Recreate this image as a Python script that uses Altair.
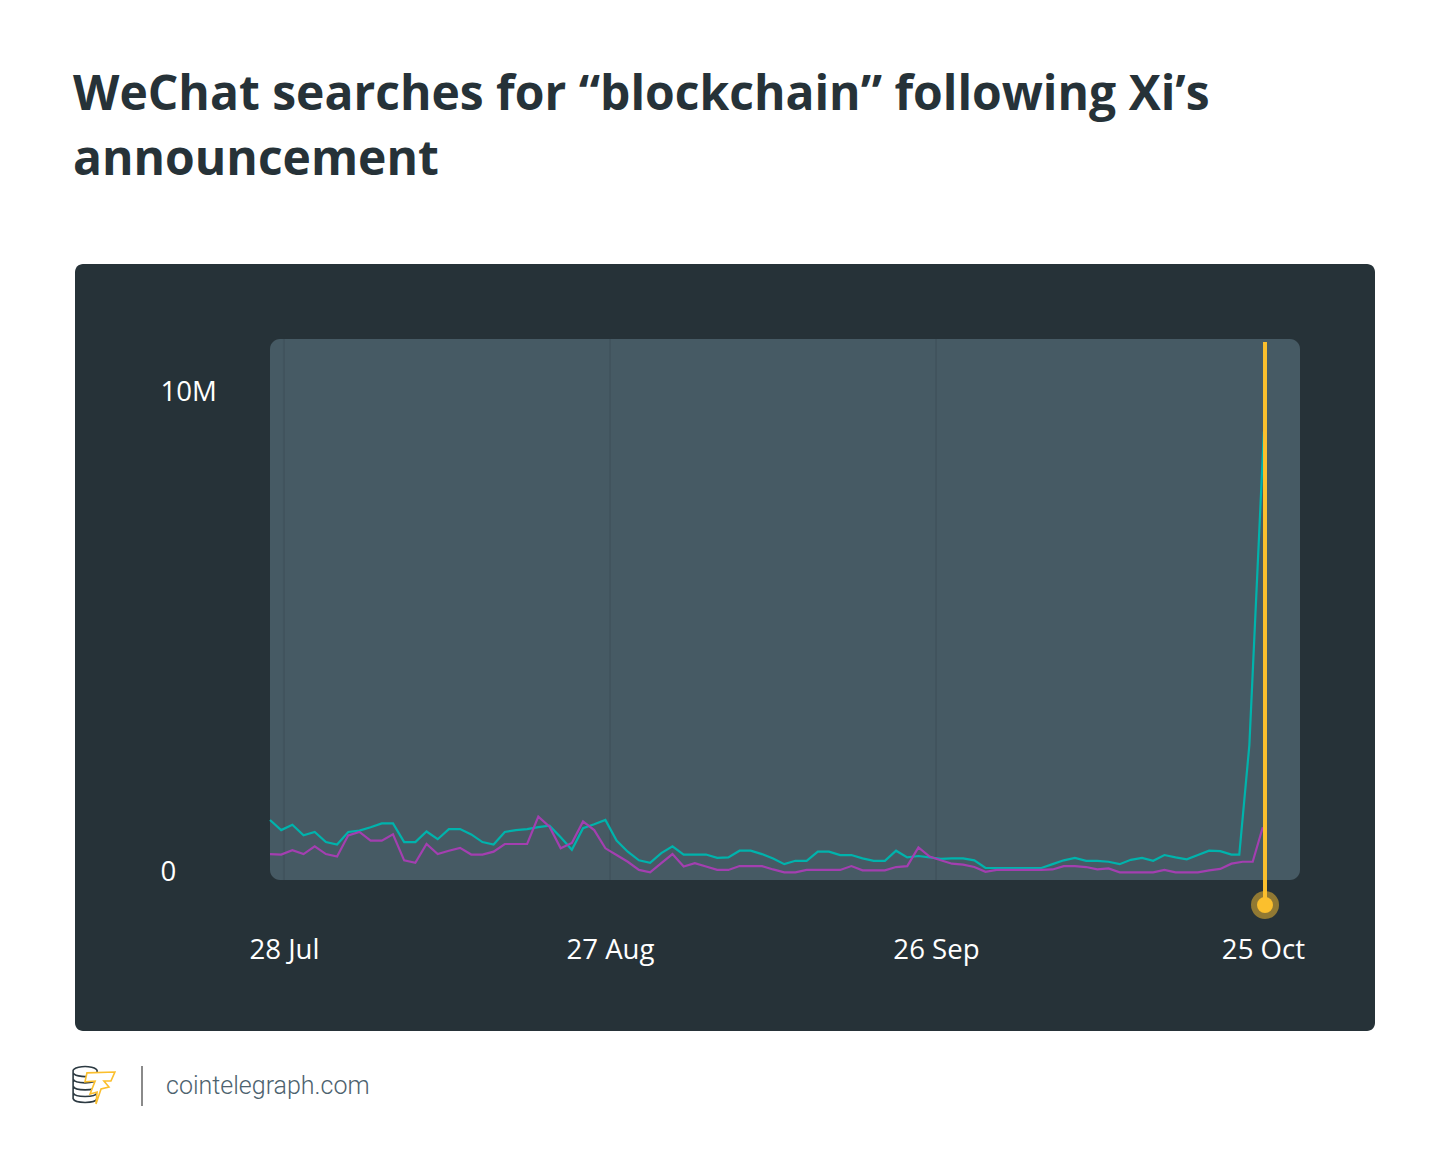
import json
import altair as alt
import pandas as pd

title_lines = ["WeChat searches for “blockchain” following Xi’s", "announcement"]
footer = "cointelegraph.com"
tick_positions = [1.25, 30.41, 59.57, 88.82]
tick_labels = ["28 Jul", "27 Aug", "26 Sep", "25 Oct"]
marker_x = [89.0]

teal_x = list(range(87)) + [86.7, 87.6, 88.9]
purple_x = list(range(88)) + [87.9, 88.8]

teal = [1.06, .85, .96, .74, .81, .60, .55, .81, .84, .91, .99, .99, .60, .60, .82, .66,
        .87, .87, .76, .60, .55, .81, .85, .87, .91, .94, .70, .44, .89, .97, 1.06, .63,
        .40, .22, .17, .37, .51, .34, .34, .34, .27, .28, .42, .42, .35, .26, .14, .21,
        .21, .40, .40, .33, .33, .26, .21, .21, .42, .28, .31, .28, .25, .26,
        .26, .22, .06, .06, .06, .06, .06, .06, .14, .22, .27, .21, .21, .19, .14, .23,
        .27, .21, .33, .28, .24, .33, .42, .41, .34, .34, 2.62, 9.15]
purple = [.35, .34, .43, .35, .51, .35, .30, .74, .81, .63, .63, .76, .22, .17, .56, .35,
          .42, .48, .34, .34, .40, .56, .56, .56, 1.13, .92, .47, .58, 1.03, .85, .47, .33,
          .19, .02, -.03, .16, .35, .09, .16, .09, .02, .02, .10, .10, .10, .03, -.03, -.03,
          .02, .02, .02, .02, .10, .01, .01, .01, .08, .10, .49, .30, .22, .15,
          .13, .08, -.02, .02, .02, .02, .02, .02, .03, .10, .10, .08, .03, .05, -.03, -.03,
          -.03, -.03, .02, -.03, -.03, -.03, .01, .04, .15, .19, .19, .91]

W, H = 1030, 541
PL, PT = 262, 331
FONT = "Open Sans"
DARK = "#263238"
PANEL = "#465a64"
TEAL = "#00b3ac"
PURPLE = "#a33fb0"
YELLOW = "#fbbf2d"

x_scale = alt.Scale(domain=[0, 92.13], nice=False, zero=False)
y_scale = alt.Scale(domain=[-0.19, 11.08], nice=False, zero=False)
one = pd.DataFrame({"a": [0]})


def box(color, x0, x1, y0, y1, r):
    return alt.Chart(one).mark_rect(color=color, cornerRadius=r).encode(
        x=alt.value(x0), x2=alt.value(x1), y=alt.value(y0), y2=alt.value(y1))


def label(text, x, y, size, color, font=FONT, weight=400):
    return alt.Chart(pd.DataFrame({"t": [text]})).mark_text(
        align="left", baseline="alphabetic", fontSize=size, font=font,
        fontWeight=weight, color=color).encode(
        x=alt.value(x), y=alt.value(y), text="t:N")


def logo(path, fill, stroke):
    return alt.Chart(one).mark_point(
        shape=path, size=1936, filled=True, fill=fill, stroke=stroke,
        strokeWidth=1.6, opacity=1).encode(x=alt.value(-176), y=alt.value(746))


label_map = "{" + ",".join(f"'{p}':{json.dumps(l)}" for p, l in zip(tick_positions, tick_labels)) + "}"

x_axis = alt.Axis(values=tick_positions, labelExpr=label_map + "[datum.value]", title=None,
                  domain=False, ticks=False, grid=False, labelFont=FONT, labelFontSize=27.6,
                  labelColor="#ffffff", labelPadding=56.5, labelOverlap=False, labelFlush=False,
                  labelBound=False, zindex=1)
y_axis = alt.Axis(values=[0, 10], labelExpr="datum.value == 10 ? '10M' : '0'", title=None,
                  domain=False, ticks=False, grid=False, labelFont=FONT, labelFontSize=27.6,
                  labelColor="#ffffff", labelAlign="left", labelPadding=110, labelOffset=1.5,
                  zindex=1)

grid = alt.Chart(pd.DataFrame({"x": tick_positions[:3]})).mark_rule(
    color=DARK, opacity=0.13, strokeWidth=2).encode(
    x=alt.X("x:Q", scale=x_scale, axis=x_axis))

line_teal = alt.Chart(pd.DataFrame({"x": teal_x, "y": teal})).mark_line(
    color=TEAL, strokeWidth=2.2).encode(
    x=alt.X("x:Q", scale=x_scale, axis=x_axis),
    y=alt.Y("y:Q", scale=y_scale, axis=y_axis))
line_purple = alt.Chart(pd.DataFrame({"x": purple_x, "y": purple})).mark_line(
    color=PURPLE, strokeWidth=2.2).encode(
    x=alt.X("x:Q", scale=x_scale, axis=x_axis), y=alt.Y("y:Q", scale=y_scale, axis=y_axis))

marker_df = pd.DataFrame({"x": marker_x})
marker_rule = alt.Chart(marker_df).mark_rule(color=YELLOW, strokeWidth=4).encode(
    x=alt.X("x:Q", scale=x_scale, axis=x_axis), y=alt.value(3), y2=alt.value(566))
halo = alt.Chart(marker_df).mark_point(
    filled=True, color=YELLOW, opacity=0.5, size=784, shape="circle").encode(
    x=alt.X("x:Q", scale=x_scale, axis=x_axis), y=alt.value(566))
dot = alt.Chart(marker_df).mark_point(
    filled=True, color=YELLOW, opacity=1, size=256, shape="circle").encode(
    x=alt.X("x:Q", scale=x_scale, axis=x_axis), y=alt.value(566))

coins = ("M-.95,-.61 A.55,.2 0 1 1 .14,-.61 A.55,.2 0 1 1 -.95,-.61 Z "
         "M-.95,-.61 L-.95,.62 A.55,.2 0 0 0 .14,.62 L.14,-.61 "
         "M-.95,-.27 A.55,.2 0 0 0 .14,-.27 M-.95,.05 A.55,.2 0 0 0 .14,.05 "
         "M-.95,.35 A.55,.2 0 0 0 .14,.35")
bolt = ("M-.32,-.55 L.95,-.59 L.77,-.18 L.45,-.18 L.68,.09 L.32,.18 L.09,.86 L.14,.32 "
        "L-.18,.41 L.05,-.18 L-.41,-.14 Z")

chart = alt.layer(
    box(DARK, -195, 1105, -75, 692, 8),
    box(PANEL, 0, W, 0, H, 10),
    grid,
    line_teal,
    line_purple,
    marker_rule,
    halo,
    dot,
    label(title_lines[0], -197, -229, 48, DARK, weight=700),
    label(title_lines[1], -197, -164, 48, DARK, weight=700),
    logo(coins, "#ffffff", "#2c3a42"),
    logo(bolt, "#ffffff", YELLOW),
    box("#8a8a8a", -129, -127, 727, 767, 0),
    label(footer, -104, 755, 25, "#4d626e", font="Roboto", weight=300),
).properties(
    width=W, height=H, background="#ffffff",
    padding={"left": PL, "top": PT, "right": 1434 - PL - W, "bottom": 1156 - PT - H},
    autosize=alt.AutoSizeParams(type="none"),
).configure_view(stroke=None)

chart.save("out.html", embed_options={"renderer": "svg", "actions": False})
